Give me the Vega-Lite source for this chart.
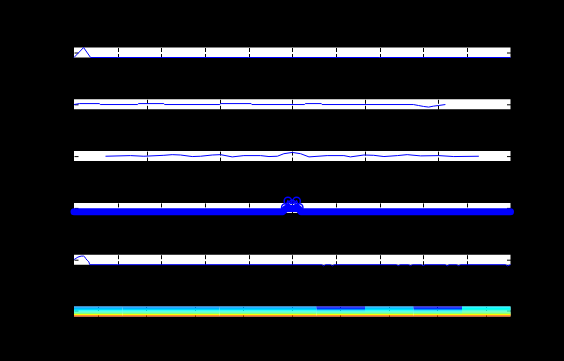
{
  "$schema": "https://vega.github.io/schema/vega-lite/v6.json",
  "background": "black",
  "padding": {"left": 70, "top": 46.5, "right": 51, "bottom": 46},
  "bounds": "flush",
  "spacing": 41.8,
  "config": {
    "view": {"fill": "white", "stroke": null},
    "axis": {"labels": false, "ticks": false, "domain": false, "title": null, "grid": true, "gridColor": "black", "gridWidth": 1, "gridOpacity": 1, "zindex": 1},
    "axisX": {"gridDash": [4, 2, 4]},
    "axisY": {"gridDash": [4, 428.5, 4]}
  },
  "datasets": {
    "p1": [
      {"x": 0, "y": 0}, {"x": 0.22, "y": 1}, {"x": 0.38, "y": 0}, {"x": 1, "y": 0}, {"x": 2, "y": 0}, {"x": 3, "y": 0}, {"x": 4, "y": 0}, {"x": 5, "y": 0}, {"x": 6, "y": 0}, {"x": 7, "y": 0}, {"x": 8, "y": 0}, {"x": 9, "y": 0}, {"x": 10, "y": 0}
    ],
    "p2": [
      {"x": 0.0, "y": 0.476}, {"x": 0.15, "y": 0.571}, {"x": 0.7, "y": 0.571}, {"x": 0.72, "y": 0.476}, {"x": 1.75, "y": 0.476}, {"x": 1.77, "y": 0.571}, {"x": 2.47, "y": 0.571}, {"x": 2.49, "y": 0.476}, {"x": 4.01, "y": 0.476}, {"x": 4.03, "y": 0.571}, {"x": 4.87, "y": 0.571}, {"x": 4.89, "y": 0.476}, {"x": 6.34, "y": 0.476}, {"x": 6.36, "y": 0.571}, {"x": 6.8, "y": 0.571}, {"x": 6.82, "y": 0.476}, {"x": 9.33, "y": 0.476}, {"x": 9.47, "y": 0.38}, {"x": 9.61, "y": 0.286}, {"x": 9.75, "y": 0.22}, {"x": 9.88, "y": 0.314}, {"x": 10.02, "y": 0.38}, {"x": 10.21, "y": 0.476}
    ],
    "p3": [
      {"x": 0.866, "y": 0.486}, {"x": 1.553, "y": 0.55}, {"x": 1.92, "y": 0.486}, {"x": 2.47, "y": 0.58}, {"x": 2.7, "y": 0.645}, {"x": 2.93, "y": 0.61}, {"x": 3.25, "y": 0.454}, {"x": 3.48, "y": 0.486}, {"x": 3.8, "y": 0.61}, {"x": 4.03, "y": 0.645}, {"x": 4.35, "y": 0.42}, {"x": 4.67, "y": 0.55}, {"x": 5.13, "y": 0.55}, {"x": 5.36, "y": 0.454}, {"x": 5.59, "y": 0.486}, {"x": 5.77, "y": 0.74}, {"x": 6.0, "y": 0.867}, {"x": 6.23, "y": 0.74}, {"x": 6.46, "y": 0.42}, {"x": 6.96, "y": 0.55}, {"x": 7.42, "y": 0.55}, {"x": 7.6, "y": 0.42}, {"x": 7.97, "y": 0.61}, {"x": 8.24, "y": 0.58}, {"x": 8.52, "y": 0.454}, {"x": 8.89, "y": 0.55}, {"x": 9.16, "y": 0.645}, {"x": 9.53, "y": 0.52}, {"x": 10.03, "y": 0.55}, {"x": 10.44, "y": 0.454}, {"x": 11.13, "y": 0.486}
    ],
    "p4": [
      {"x": 0, "y": 0.12}, {"x": 1, "y": 0.12}, {"x": 2, "y": 0.12}, {"x": 3, "y": 0.12}, {"x": 4, "y": 0.12}, {"x": 4.78, "y": 0.12}, {"x": 4.86, "y": 0.45}, {"x": 5.0, "y": 0.45}, {"x": 5.14, "y": 0.45}, {"x": 5.2, "y": 0.12}, {"x": 6, "y": 0.12}, {"x": 7, "y": 0.12}, {"x": 8, "y": 0.12}, {"x": 9, "y": 0.12}, {"x": 10, "y": 0.12}
    ],
    "p4peaks": [
      {"x": 4.84, "y": 0.55}, {"x": 4.9, "y": 1.2}, {"x": 5.0, "y": 0.9}, {"x": 5.1, "y": 1.2}, {"x": 5.16, "y": 0.55}
    ],
    "p5": [
      {"x": 0.0, "y": 0.51}, {"x": 0.09, "y": 0.76}, {"x": 0.165, "y": 0.86}, {"x": 0.22, "y": 0.86}, {"x": 0.25, "y": 0.76}, {"x": 0.27, "y": 0.61}, {"x": 0.3, "y": 0.45}, {"x": 0.34, "y": 0.29}, {"x": 0.36, "y": 0.0}, {"x": 1, "y": 0}, {"x": 2, "y": 0}, {"x": 3, "y": 0}, {"x": 4, "y": 0}, {"x": 5, "y": 0}, {"x": 5.68, "y": 0}, {"x": 5.72, "y": -0.12}, {"x": 5.76, "y": 0}, {"x": 5.88, "y": 0}, {"x": 5.92, "y": -0.12}, {"x": 5.96, "y": 0}, {"x": 7.39, "y": 0}, {"x": 7.43, "y": -0.1}, {"x": 7.47, "y": 0}, {"x": 7.67, "y": 0}, {"x": 7.71, "y": -0.1}, {"x": 7.75, "y": 0}, {"x": 7.96, "y": 0}, {"x": 8.0, "y": -0.1}, {"x": 8.04, "y": 0}, {"x": 8.51, "y": 0}, {"x": 8.55, "y": -0.12}, {"x": 8.59, "y": 0}, {"x": 8.77, "y": 0}, {"x": 8.81, "y": -0.1}, {"x": 8.85, "y": 0}, {"x": 9.89, "y": 0}, {"x": 9.93, "y": -0.12}, {"x": 10, "y": 0}
    ],
    "p6": [
      {"c": 1, "r": 1, "v": 0.27}, {"c": 1, "r": 2, "v": 0.31}, {"c": 1, "r": 3, "v": 0.34}, {"c": 1, "r": 4, "v": 0.38}, {"c": 1, "r": 5, "v": 0.43}, {"c": 1, "r": 6, "v": 0.5}, {"c": 1, "r": 7, "v": 0.62}, {"c": 1, "r": 8, "v": 0.78},
      {"c": 2, "r": 1, "v": 0.26}, {"c": 2, "r": 2, "v": 0.3}, {"c": 2, "r": 3, "v": 0.34}, {"c": 2, "r": 4, "v": 0.38}, {"c": 2, "r": 5, "v": 0.43}, {"c": 2, "r": 6, "v": 0.5}, {"c": 2, "r": 7, "v": 0.62}, {"c": 2, "r": 8, "v": 0.78},
      {"c": 3, "r": 1, "v": 0.26}, {"c": 3, "r": 2, "v": 0.3}, {"c": 3, "r": 3, "v": 0.34}, {"c": 3, "r": 4, "v": 0.38}, {"c": 3, "r": 5, "v": 0.43}, {"c": 3, "r": 6, "v": 0.5}, {"c": 3, "r": 7, "v": 0.62}, {"c": 3, "r": 8, "v": 0.78},
      {"c": 4, "r": 1, "v": 0.27}, {"c": 4, "r": 2, "v": 0.31}, {"c": 4, "r": 3, "v": 0.34}, {"c": 4, "r": 4, "v": 0.38}, {"c": 4, "r": 5, "v": 0.43}, {"c": 4, "r": 6, "v": 0.5}, {"c": 4, "r": 7, "v": 0.62}, {"c": 4, "r": 8, "v": 0.78},
      {"c": 5, "r": 1, "v": 0.27}, {"c": 5, "r": 2, "v": 0.31}, {"c": 5, "r": 3, "v": 0.34}, {"c": 5, "r": 4, "v": 0.38}, {"c": 5, "r": 5, "v": 0.43}, {"c": 5, "r": 6, "v": 0.5}, {"c": 5, "r": 7, "v": 0.62}, {"c": 5, "r": 8, "v": 0.78},
      {"c": 6, "r": 1, "v": 0.12}, {"c": 6, "r": 2, "v": 0.18}, {"c": 6, "r": 3, "v": 0.27}, {"c": 6, "r": 4, "v": 0.35}, {"c": 6, "r": 5, "v": 0.42}, {"c": 6, "r": 6, "v": 0.5}, {"c": 6, "r": 7, "v": 0.62}, {"c": 6, "r": 8, "v": 0.78},
      {"c": 7, "r": 1, "v": 0.29}, {"c": 7, "r": 2, "v": 0.32}, {"c": 7, "r": 3, "v": 0.35}, {"c": 7, "r": 4, "v": 0.38}, {"c": 7, "r": 5, "v": 0.43}, {"c": 7, "r": 6, "v": 0.5}, {"c": 7, "r": 7, "v": 0.62}, {"c": 7, "r": 8, "v": 0.78},
      {"c": 8, "r": 1, "v": 0.12}, {"c": 8, "r": 2, "v": 0.18}, {"c": 8, "r": 3, "v": 0.27}, {"c": 8, "r": 4, "v": 0.35}, {"c": 8, "r": 5, "v": 0.42}, {"c": 8, "r": 6, "v": 0.5}, {"c": 8, "r": 7, "v": 0.62}, {"c": 8, "r": 8, "v": 0.78},
      {"c": 9, "r": 1, "v": 0.36}, {"c": 9, "r": 2, "v": 0.38}, {"c": 9, "r": 3, "v": 0.4}, {"c": 9, "r": 4, "v": 0.42}, {"c": 9, "r": 5, "v": 0.46}, {"c": 9, "r": 6, "v": 0.52}, {"c": 9, "r": 7, "v": 0.63}, {"c": 9, "r": 8, "v": 0.78}
    ]
  },
  "vconcat": [
    {
      "width": 436.5, "height": 10,
      "data": {"name": "p1"},
      "mark": {"type": "line", "color": "#0000ff", "strokeWidth": 1, "strokeJoin": "round"},
      "encoding": {
        "x": {"field": "x", "type": "quantitative", "scale": {"domain": [0, 10], "nice": false, "zero": false}, "axis": {"values": [1, 2, 3, 4, 5, 6, 7, 8, 9]}},
        "y": {"field": "y", "type": "quantitative", "scale": {"domain": [0, 1], "nice": false}, "axis": {"values": [0.5]}}
      }
    },
    {
      "width": 436.5, "height": 10,
      "data": {"name": "p2"},
      "mark": {"type": "line", "color": "#0000ff", "strokeWidth": 1},
      "encoding": {
        "x": {"field": "x", "type": "quantitative", "scale": {"domain": [0, 12], "nice": false, "zero": false}, "axis": {"values": [2, 4, 6, 8, 10]}},
        "y": {"field": "y", "type": "quantitative", "scale": {"domain": [0, 1], "nice": false}, "axis": {"values": [0.5]}}
      }
    },
    {
      "width": 436.5, "height": 10,
      "data": {"name": "p3"},
      "mark": {"type": "line", "color": "#0000ff", "strokeWidth": 1},
      "encoding": {
        "x": {"field": "x", "type": "quantitative", "scale": {"domain": [0, 12], "nice": false, "zero": false}, "axis": {"values": [2, 4, 6, 8, 10]}},
        "y": {"field": "y", "type": "quantitative", "scale": {"domain": [0, 1], "nice": false}, "axis": {"values": [0.5]}}
      }
    },
    {
      "width": 436.5, "height": 10,
      "layer": [
        {
          "data": {"name": "p4"},
          "mark": {"type": "line", "color": "#0000ff", "strokeWidth": 7, "strokeCap": "round", "strokeJoin": "round"},
          "encoding": {
            "x": {"field": "x", "type": "quantitative", "scale": {"domain": [0, 10], "nice": false, "zero": false}, "axis": {"values": [1, 2, 3, 4, 5, 6, 7, 8, 9], "domain": true, "domainColor": "black", "domainWidth": 1}},
            "y": {"field": "y", "type": "quantitative", "scale": {"domain": [0, 1], "nice": false}, "axis": {"values": [0.5]}}
          }
        },
        {
          "data": {"name": "p4peaks"},
          "mark": {"type": "line", "color": "#0000ff", "strokeWidth": 1.5, "point": {"shape": "circle", "filled": false, "color": "#0000ff", "strokeWidth": 1.5, "size": 55, "opacity": 1}},
          "encoding": {
            "x": {"field": "x", "type": "quantitative"},
            "y": {"field": "y", "type": "quantitative"}
          }
        }
      ]
    },
    {
      "width": 436.5, "height": 10,
      "data": {"name": "p5"},
      "mark": {"type": "line", "color": "#0000ff", "strokeWidth": 1},
      "encoding": {
        "x": {"field": "x", "type": "quantitative", "scale": {"domain": [0, 10], "nice": false, "zero": false}, "axis": {"values": [1, 2, 3, 4, 5, 6, 7, 8, 9]}},
        "y": {"field": "y", "type": "quantitative", "scale": {"domain": [0, 1], "nice": false}, "axis": {"values": [0.5]}}
      }
    },
    {
      "width": 436.5, "height": 10,
      "data": {"name": "p6"},
      "mark": {"type": "rect"},
      "encoding": {
        "x": {"field": "c", "type": "ordinal", "scale": {"paddingInner": 0, "paddingOuter": 0}, "axis": {"bandPosition": 0.5}},
        "y": {"field": "r", "type": "ordinal", "scale": {"paddingInner": 0, "paddingOuter": 0}, "axis": {"bandPosition": 0.5, "values": [4]}},
        "color": {"field": "v", "type": "quantitative", "legend": null, "scale": {"type": "linear", "domain": [0, 0.125, 0.375, 0.625, 0.875, 1], "range": ["#000080", "#0000ff", "#00ffff", "#ffff00", "#ff0000", "#800000"], "interpolate": "rgb"}}
      }
    }
  ]
}
